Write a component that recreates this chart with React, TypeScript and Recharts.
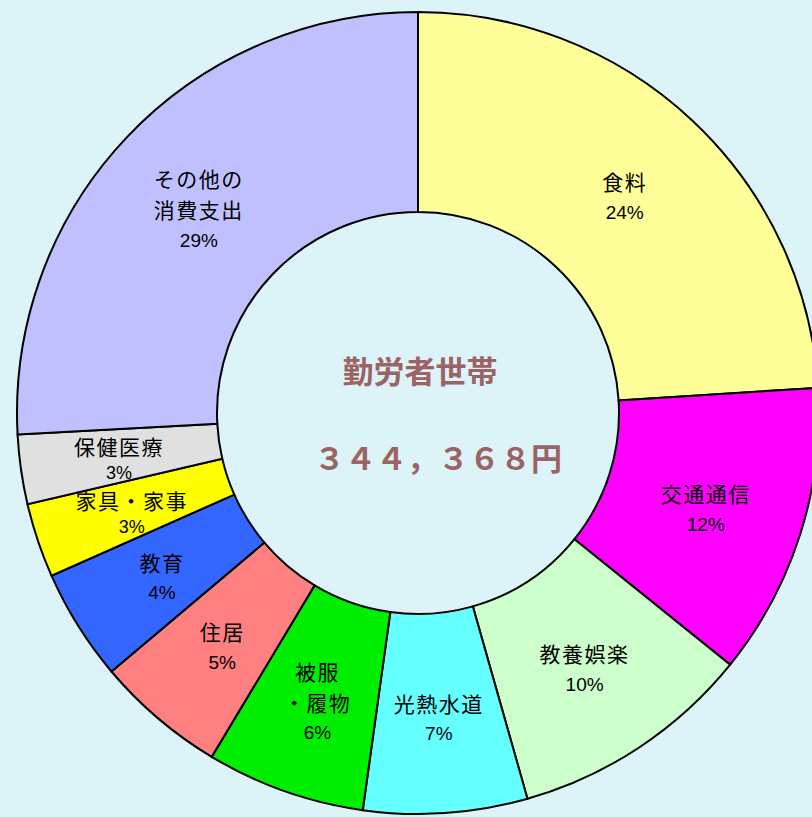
import { PieChart, Pie, Cell } from "recharts";

const categories = [
  "食料",
  "交通通信",
  "教養娯楽",
  "光熱水道",
  "被服・履物",
  "住居",
  "教育",
  "家具・家事",
  "保健医療",
  "その他の消費支出",
];
// share of the ring
const shares = [24.0, 11.8, 9.8, 6.6, 6.4, 5.25, 4.5, 3.0, 2.8, 25.85];
const percentLabels = ["24%", "12%", "10%", "7%", "6%", "5%", "4%", "3%", "3%", "29%"];
const nameLines = [
  ["食料"],
  ["交通通信"],
  ["教養娯楽"],
  ["光熱水道"],
  ["被服", "・履物"],
  ["住居"],
  ["教育"],
  ["家具・家事"],
  ["保健医療"],
  ["その他の", "消費支出"],
];
const colors = [
  "#ffff99",
  "#ff00ff",
  "#ccffcc",
  "#66ffff",
  "#00ee00",
  "#ff8080",
  "#3366ff",
  "#ffff00",
  "#e0e0e0",
  "#c0c0ff",
];
const householdLabel = "勤労者世帯";
const totalLabel = "３４４，３６８円";

const data = categories.map((name, i) => ({
  name,
  value: shares[i],
  lines: nameLines[i],
  pct: percentLabels[i],
}));

const RAD = Math.PI / 180;
const JP = "'Noto Sans CJK JP', 'Noto Sans', sans-serif";
const NARROW = "'Liberation Sans Narrow', 'Arial Narrow', 'Liberation Sans', sans-serif";

// eslint-disable-next-line @typescript-eslint/no-explicit-any
function SliceLabel(props: any) {
  const { cx, cy, midAngle, index } = props;
  const r = 302;
  const x = cx + r * Math.cos(-midAngle * RAD);
  const y = cy + r * Math.sin(-midAngle * RAD) + 4;
  const item = data[index];
  const lines = [...item.lines, item.pct];
  // thin slices get a tighter block so neighbours don't collide
  const thin = item.value < 3.5;
  const step = thin ? 27 : 31;
  const top = y - ((lines.length - 1) * step) / 2;
  return (
    <g>
      {lines.map((t: string, k: number) => {
        const isPct = k === lines.length - 1;
        return (
          <text
            key={k}
            x={x}
            y={top + k * step}
            textAnchor="middle"
            dominantBaseline="central"
            fill="#000"
            fontSize={isPct ? (thin ? 18 : 19) : 21}
            fontFamily={isPct ? NARROW : JP}
            letterSpacing={isPct ? 0 : 1.5}
          >
            {t}
          </text>
        );
      })}
    </g>
  );
}

export default function App() {
  return (
    <div
      style={{
        position: "absolute",
        left: 0,
        top: 0,
        width: 812,
        height: 817,
        overflow: "hidden",
        background: "#dcf3f7",
      }}
    >
      <PieChart width={812} height={817} margin={{ top: 0, right: 0, bottom: 0, left: 0 }}>
        <Pie
          data={data}
          dataKey="value"
          nameKey="name"
          cx={418}
          cy={413}
          innerRadius={201}
          outerRadius={401}
          startAngle={90}
          endAngle={-270}
          stroke="#000"
          strokeWidth={2}
          label={SliceLabel}
          labelLine={false}
          isAnimationActive={false}
        >
          {data.map((d, i) => (
            <Cell key={d.name} fill={colors[i]} />
          ))}
        </Pie>
      </PieChart>
      <div
        style={{
          position: "absolute",
          left: 220,
          width: 400,
          top: 348,
          textAlign: "center",
          fontFamily: JP,
          fontWeight: 700,
          fontSize: 31,
          lineHeight: "44px",
          color: "#9b6363",
        }}
      >
        {householdLabel}
      </div>
      <div
        style={{
          position: "absolute",
          left: 238,
          width: 400,
          top: 435,
          textAlign: "center",
          fontFamily: JP,
          fontWeight: 700,
          fontSize: 31,
          lineHeight: "44px",
          color: "#9b6363",
        }}
      >
        {totalLabel}
      </div>
    </div>
  );
}
